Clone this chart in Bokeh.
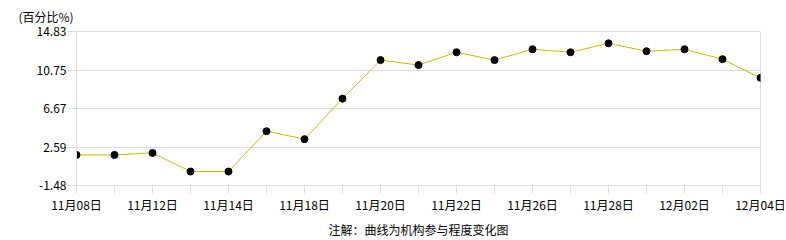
from bokeh.plotting import figure
from bokeh.models import FixedTicker, Range1d, Title
from bokeh.embed import file_html
from bokeh.resources import INLINE

dates = ["11月08日", "11月11日", "11月12日", "11月13日", "11月14日", "11月15日",
         "11月18日", "11月19日", "11月20日", "11月21日", "11月22日", "11月25日",
         "11月26日", "11月27日", "11月28日", "11月29日", "12月02日", "12月03日", "12月04日"]
values = [1.76, 1.76, 1.97, 0.0, 0.0, 4.27, 3.43, 7.72, 11.80, 11.28, 12.63, 11.80,
          12.95, 12.63, 13.58, 12.74, 12.95, 11.90, 9.92]
y_ticks = [-1.48, 2.59, 6.67, 10.75, 14.83]
y_tick_labels = ["-1.48", "2.59", "6.67", "10.75", "14.83"]
title_text = "(百分比%)"
note_text = "注解：曲线为机构参与程度变化图"

FONT = "Noto Sans CJK SC"
idx = list(range(len(dates)))

p = figure(width=786, height=240, output_backend="svg", toolbar_location=None,
           x_range=Range1d(0, len(dates) - 1), y_range=Range1d(y_ticks[0], y_ticks[-1]),
           min_border_left=76, min_border_right=26, min_border_top=31, min_border_bottom=53)

p.line(idx, values, line_color="#C4C000", line_width=1)
p.scatter(idx, values, size=7, fill_color="black", line_color="black")

# x axis
p.xaxis.ticker = FixedTicker(ticks=idx)
p.xaxis.major_label_overrides = {i: (dates[i] if i % 2 == 0 else "") for i in idx}
p.xaxis.axis_line_color = "#dddddd"
p.xaxis.major_tick_line_color = "#dddddd"
p.xaxis.major_tick_out = 8
p.xaxis.major_tick_in = 0
p.xaxis.minor_tick_line_color = None
p.xaxis.major_label_text_font = FONT
p.xaxis.major_label_text_font_size = "12px"
p.xaxis.major_label_text_color = "black"
p.xaxis.major_label_standoff = 2

# y axis
p.yaxis.ticker = FixedTicker(ticks=y_ticks)
p.yaxis.major_label_overrides = {v: s for v, s in zip(y_ticks, y_tick_labels)}
p.yaxis.axis_line_color = "#dddddd"
p.yaxis.major_tick_line_color = "#dddddd"
p.yaxis.major_tick_out = 9
p.yaxis.major_tick_in = 0
p.yaxis.minor_tick_line_color = None
p.yaxis.major_label_text_font = FONT
p.yaxis.major_label_text_font_size = "12px"
p.yaxis.major_label_text_color = "black"
p.yaxis.major_label_standoff = 1

p.xgrid.grid_line_color = None
p.ygrid.ticker = FixedTicker(ticks=y_ticks)
p.ygrid.grid_line_color = "#dddddd"
p.outline_line_color = "#dddddd"

p.title = Title(text=title_text, align="left", offset=-58, standoff=10,
                vertical_align="top",
                text_font=FONT, text_font_size="12px", text_font_style="normal",
                text_color="black")
p.add_layout(Title(text=note_text, align="center", offset=-6, standoff=6,
                   text_font=FONT, text_font_size="12px", text_font_style="normal",
                   text_color="black"), "below")

open("out.html", "w").write(file_html(p, INLINE))
